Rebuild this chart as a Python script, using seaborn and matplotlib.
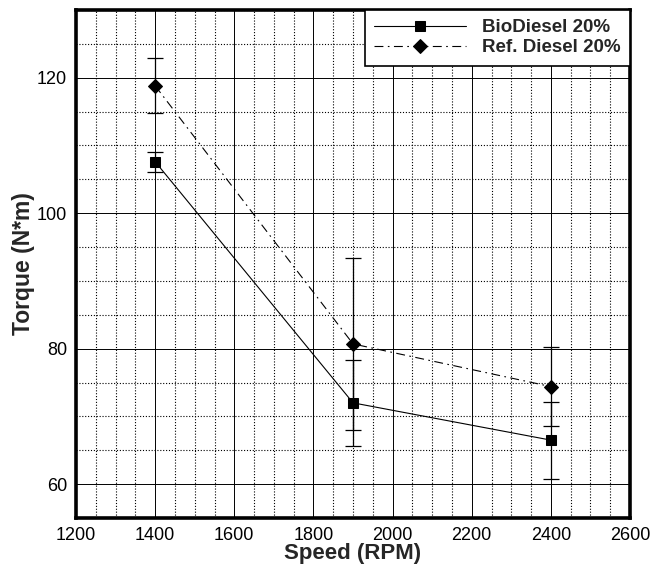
import numpy as np
import pandas as pd
import matplotlib
matplotlib.use("Agg")
import matplotlib.pyplot as plt
from matplotlib.ticker import MultipleLocator
import seaborn as sns

SPEED = [1400, 1900, 2400]

BIO_TORQUE = [107.6, 72.0, 66.5]
BIO_ERR = [1.45, 6.3, 5.7]

REF_TORQUE = [118.8, 80.7, 74.4]
REF_ERR = [4.05, 12.7, 5.8]

BIO_LABEL = "BioDiesel 20%"
REF_LABEL = "Ref. Diesel 20%"

X_LABEL = "Speed (RPM)"
Y_LABEL = "Torque (N*m)"


def main():
    sns.set_style("white")
    plt.rcParams["font.family"] = ["Liberation Sans", "DejaVu Sans"]

    fig, ax = plt.subplots(figsize=(6.52, 5.67), dpi=100)
    fig.subplots_adjust(left=0.1166, right=0.9663, bottom=0.0864, top=0.9824)

    bio = pd.DataFrame({"speed": SPEED, "torque": BIO_TORQUE})
    ref = pd.DataFrame({"speed": SPEED, "torque": REF_TORQUE})

    # error bars first so the markers sit on top
    ax.errorbar(SPEED, BIO_TORQUE, yerr=BIO_ERR, fmt="none", ecolor="black",
                elinewidth=0.9, capsize=5.8, capthick=0.9, zorder=3)
    ax.errorbar(SPEED, REF_TORQUE, yerr=REF_ERR, fmt="none", ecolor="black",
                elinewidth=0.9, capsize=5.8, capthick=0.9, zorder=3)

    sns.lineplot(data=bio, x="speed", y="torque", ax=ax, color="black",
                 lw=0.8, marker="s", markersize=7.7, markeredgecolor="black",
                 markerfacecolor="black", label=BIO_LABEL, zorder=4)
    sns.lineplot(data=ref, x="speed", y="torque", ax=ax, color="black",
                 lw=0.8, linestyle=(0, (8, 4, 1.5, 4)), marker="D",
                 markersize=6.8, markeredgecolor="black",
                 markerfacecolor="black", label=REF_LABEL, zorder=4)

    ax.set_xlim(1200, 2600)
    ax.set_ylim(55, 130)
    ax.xaxis.set_major_locator(MultipleLocator(200))
    ax.xaxis.set_minor_locator(MultipleLocator(50))
    ax.set_yticks([60, 80, 100, 120])
    ax.yaxis.set_minor_locator(MultipleLocator(5))

    ax.grid(which="major", color="black", lw=0.7, ls="-")
    ax.grid(which="minor", color="black", lw=0.8, ls=(0, (1, 1.6)))
    ax.set_axisbelow(True)

    for side in ["left", "bottom", "right", "top"]:
        ax.spines[side].set_visible(True)
        ax.spines[side].set_color("black")
        ax.spines[side].set_linewidth(2.6)

    ax.tick_params(axis="both", which="major", direction="inout", length=11,
                   width=2.2, labelsize=13, colors="black", pad=1)
    ax.tick_params(axis="x", which="minor", direction="in", length=5,
                   width=1, colors="black")
    ax.tick_params(axis="y", which="minor", direction="out", length=5,
                   width=1, colors="black")

    ax.set_xlabel(X_LABEL, fontsize=16, fontweight="bold", labelpad=-1)
    ax.set_ylabel(Y_LABEL, fontsize=16.5, fontweight="bold", labelpad=1)

    leg = ax.legend(loc="upper right", bbox_to_anchor=(1.0, 1.0),
                    borderaxespad=0, fancybox=False, frameon=True,
                    edgecolor="black", framealpha=1, handlelength=4.9,
                    handletextpad=0.85, borderpad=0.5, labelspacing=0.15,
                    prop={"size": 13.5, "weight": "bold"})
    leg.get_frame().set_linewidth(1.2)
    leg.set_zorder(10)

    fig.savefig("out.png", dpi=100)
    plt.close(fig)


if __name__ == "__main__":
    main()
